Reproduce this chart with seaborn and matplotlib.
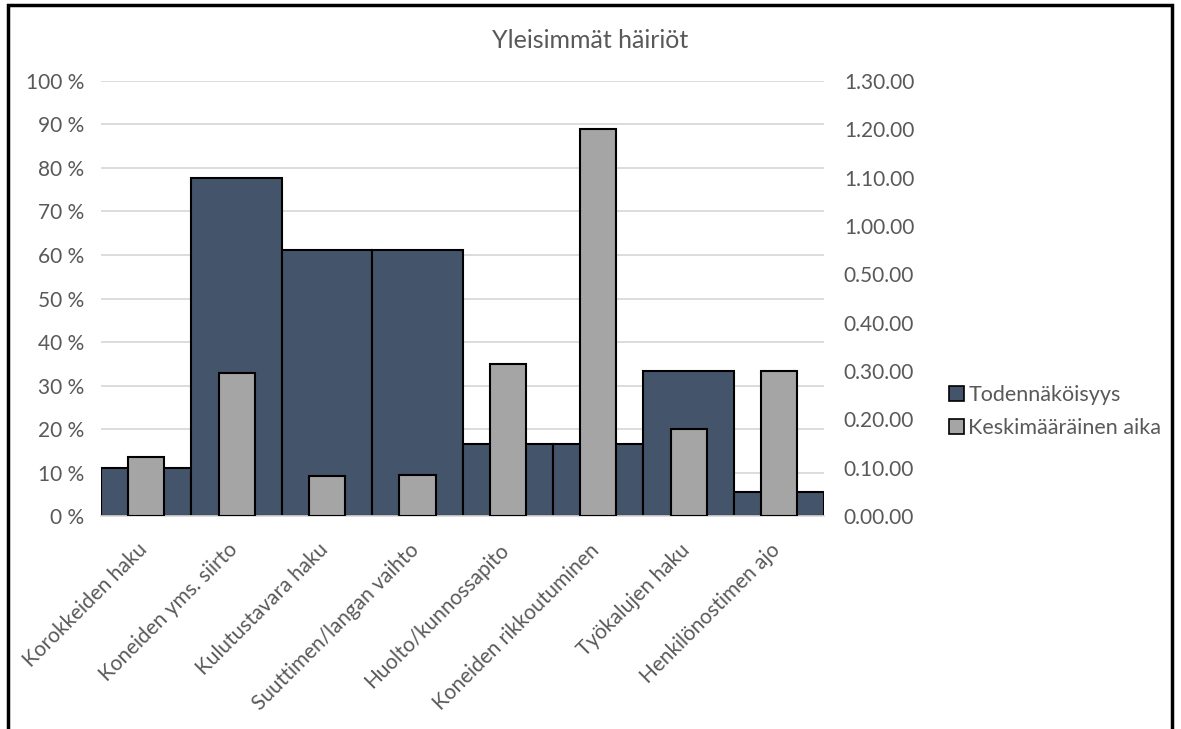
import pandas as pd
import numpy as np
import matplotlib.pyplot as plt
import matplotlib.transforms as mtransforms
import seaborn as sns
from matplotlib.patches import Patch, Rectangle

# Data
categories = ['Korokkeiden haku', 'Koneiden yms. siirto', 'Kulutustavara haku',
              'Suuttimen/langan vaihto', 'Huolto/kunnossapito', 'Koneiden rikkoutuminen',
              'Työkalujen haku', 'Henkilönostimen ajo']
probability = [2/18, 14/18, 11/18, 11/18, 3/18, 3/18, 6/18, 1/18]
avg_time_min = [12.2, 29.5, 8.4, 8.6, 31.5, 80, 18, 30]
left_ticks = [0, 0.1, 0.2, 0.3, 0.4, 0.5, 0.6, 0.7, 0.8, 0.9, 1.0]
right_ticks = [0, 10, 20, 30, 40, 50, 60, 70, 80, 90]

df = pd.DataFrame({'haku': categories, 'p': probability, 't': avg_time_min})

sns.set_theme(style="white")
plt.rcParams['font.family'] = ['Lato', 'DejaVu Sans']
text_col = '#595959'
dark = '#44546A'
gray = '#A5A5A5'

fig = plt.figure(figsize=(11.81, 7.29), dpi=100)
ax = fig.add_axes([0.0855, 0.292, 0.6125, 0.597])

sns.barplot(data=df, x='haku', y='p', color=dark, width=1.0, saturation=1,
            edgecolor='black', linewidth=1.5, ax=ax)
ax.set_ylim(0, 1.0)
ax.set_yticks(left_ticks)
ax.set_yticklabels([f'{int(round(v * 100))} %' for v in left_ticks])
ax.yaxis.grid(True, color='#D9D9D9', linewidth=1.3)
ax.set_axisbelow(True)
ax.set_xlabel('')
ax.set_ylabel('')
ax.set_xticks(range(len(categories)))
ax.set_xticklabels(categories, rotation=45, ha='right', va='top',
                   rotation_mode='anchor')
ax.tick_params(axis='both', length=0, colors=text_col, labelsize=15)
ax.tick_params(axis='x', pad=17)
ax.tick_params(axis='y', pad=12)
# nudge rotated labels a little to the left
shift = mtransforms.ScaledTranslation(-9 / 100, 0, fig.dpi_scale_trans)
for lab in ax.get_xticklabels():
    lab.set_transform(lab.get_transform() + shift)

ax2 = ax.twinx()
sns.barplot(data=df, x='haku', y='t', color=gray, width=0.4, saturation=1,
            edgecolor='black', linewidth=1.5, ax=ax2)
ax2.set_ylim(0, 90)
ax2.set_yticks(right_ticks)
ax2.set_yticklabels([f'{m // 60}.{m % 60:02d}.00' for m in right_ticks])
ax2.set_ylabel('')
ax2.tick_params(axis='y', length=0, colors=text_col, labelsize=15, pad=14)
ax.set_xlim(-0.5, len(categories) - 0.5)

for a in (ax, ax2):
    for s in a.spines.values():
        s.set_visible(False)
ax.spines['bottom'].set_visible(True)
ax.spines['bottom'].set_color('#D9D9D9')

fig.text(0.5, 0.945, 'Yleisimmät häiriöt', ha='center', va='center',
         fontsize=18, color=text_col)

handles = [Patch(facecolor=dark, edgecolor='black', linewidth=1.2, label='Todennäköisyys'),
           Patch(facecolor=gray, edgecolor='black', linewidth=1.2, label='Keskimääräinen aika')]
fig.legend(handles=handles, loc='center left', bbox_to_anchor=(0.787, 0.436),
           frameon=False, fontsize=15.5, handlelength=0.7, handleheight=0.7,
           handletextpad=0.2, labelspacing=0.6, labelcolor=text_col)

# outer chart frame
fig.patches.append(Rectangle((0.007, -0.05), 0.985, 1.043, transform=fig.transFigure,
                             fill=False, edgecolor='black', linewidth=2.5))

fig.savefig('out.png', dpi=100)
